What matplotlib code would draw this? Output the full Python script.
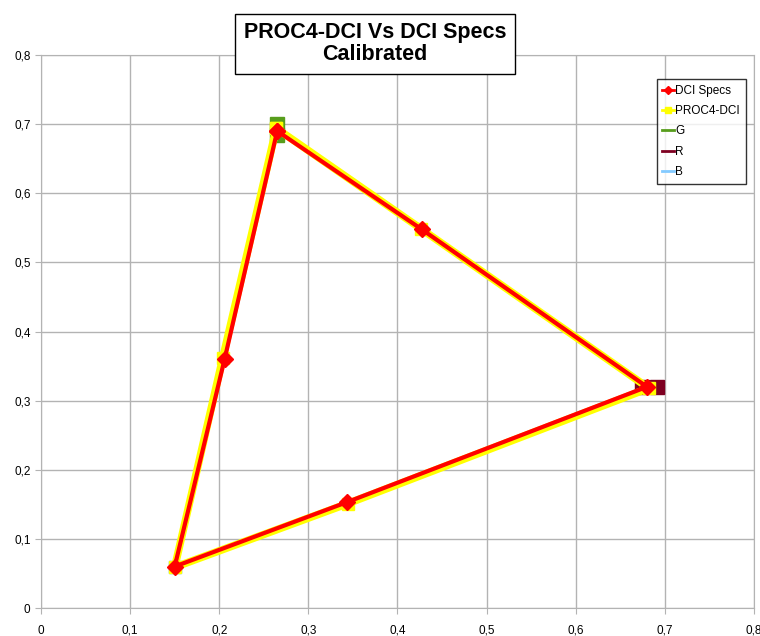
import matplotlib
matplotlib.use("Agg")
from matplotlib import pyplot as plt
from matplotlib.lines import Line2D
from matplotlib.ticker import FuncFormatter

plt.rcParams['font.family'] = ['Liberation Sans', 'DejaVu Sans']

# DCI spec gamut: G -> Y -> R -> M -> B -> C -> G
dci_x = [0.265, 0.427, 0.680, 0.343, 0.150, 0.206, 0.265]
dci_y = [0.690, 0.548, 0.320, 0.153, 0.060, 0.360, 0.690]

# measured PROC4-DCI
proc_x = [0.264, 0.426, 0.682, 0.344, 0.150, 0.204, 0.264]
proc_y = [0.694, 0.549, 0.318, 0.151, 0.059, 0.362, 0.694]

g_x = [0.265, 0.265]
g_y = [0.700, 0.684]
r_x = [0.674, 0.691]
r_y = [0.320, 0.320]
b_x = [0.150, 0.150]
b_y = [0.060, 0.060]

ticks = [0, 0.1, 0.2, 0.3, 0.4, 0.5, 0.6, 0.7, 0.8]

fig = plt.figure(figsize=(7.6, 6.36), dpi=100)
ax = fig.add_axes([0.054, 0.044, 0.938, 0.8695])

ax.plot(b_x, b_y, color='#83caff', lw=2, marker='s', ms=9, zorder=2)
ax.plot(g_x, g_y, color='#579d1c', lw=2, marker='s', ms=10, zorder=2)
ax.plot(r_x, r_y, color='#7e0021', lw=2, marker='s', ms=10, zorder=2)
ax.plot(proc_x, proc_y, color='#ffff00', lw=5.5, marker='s', ms=9, zorder=3)
ax.plot(dci_x, dci_y, color='#ff0000', lw=3, marker='D', ms=8, zorder=4)

ax.set_xlim(0, 0.8)
ax.set_ylim(0, 0.8)
ax.set_xticks(ticks)
ax.set_yticks(ticks)
fmt = FuncFormatter(lambda v, p: ('%g' % round(v, 2)).replace('.', ','))
ax.xaxis.set_major_formatter(fmt)
ax.yaxis.set_major_formatter(fmt)
ax.tick_params(labelsize=8.5, colors='#b3b3b3', labelcolor='black', length=4)
ax.tick_params(axis='x', pad=8)
ax.grid(True, color='#b3b3b3', lw=1)
ax.set_axisbelow(True)
for s in ax.spines.values():
    s.set_color('#b3b3b3')

handles = [
    Line2D([], [], color='#ff0000', lw=2, marker='D', ms=4),
    Line2D([], [], color='#ffff00', lw=2, marker='s', ms=4),
    Line2D([], [], color='#579d1c', lw=2),
    Line2D([], [], color='#7e0021', lw=2),
    Line2D([], [], color='#83caff', lw=2),
]
labels = ['DCI Specs', 'PROC4-DCI', 'G', 'R', 'B']
leg = ax.legend(handles, labels, loc='upper right',
                bbox_to_anchor=(0.9888, 0.9566), fontsize=8.5, frameon=True,
                fancybox=False, edgecolor='black', handlelength=1.0,
                handletextpad=0.1, borderpad=0.5, borderaxespad=0,
                labelspacing=0.7)
leg.get_frame().set_linewidth(1)

fig.text(0.4935, 0.931, 'PROC4-DCI Vs DCI Specs\nCalibrated', ha='center', va='center',
         fontsize=15.5, fontweight='bold', linespacing=1.05,
         bbox=dict(boxstyle='square,pad=0.4', fc='white', ec='black', lw=1))

fig.savefig('out.png', dpi=100)
